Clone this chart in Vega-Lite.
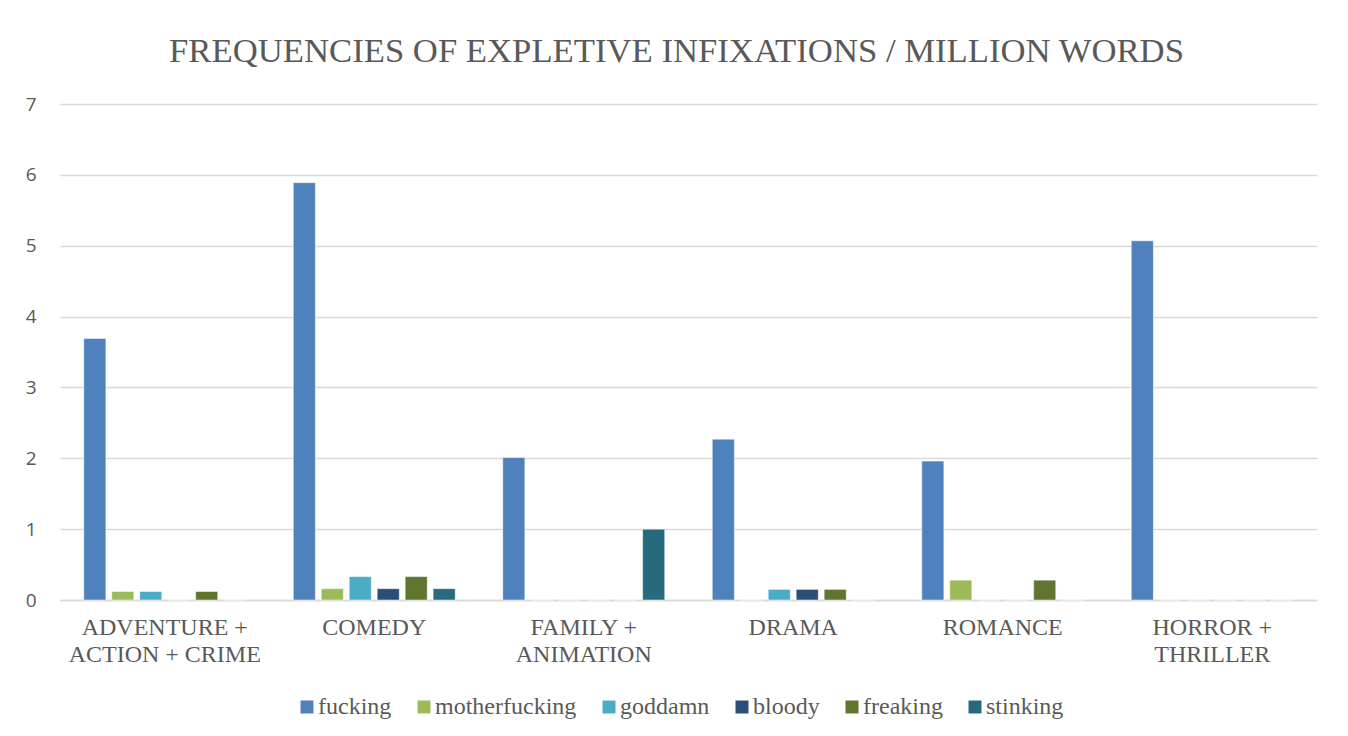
{
  "$schema": "https://vega.github.io/schema/vega-lite/v6.json",
  "width": 1257,
  "height": 496,
  "autosize": "none",
  "padding": {"left": 60, "top": 104, "right": 31, "bottom": 136},
  "background": "white",
  "title": {
    "text": "FREQUENCIES OF EXPLETIVE INFIXATIONS / MILLION WORDS",
    "font": "Liberation Serif",
    "fontSize": 34.7,
    "fontWeight": "normal",
    "color": "#595959",
    "anchor": "middle",
    "baseline": "alphabetic",
    "offset": -2,
    "dx": -12
  },
  "data": {
    "values": [
      {"genre": "ADVENTURE +|ACTION + CRIME", "word": "fucking", "freq": 3.69},
      {"genre": "ADVENTURE +|ACTION + CRIME", "word": "motherfucking", "freq": 0.12},
      {"genre": "ADVENTURE +|ACTION + CRIME", "word": "goddamn", "freq": 0.12},
      {"genre": "ADVENTURE +|ACTION + CRIME", "word": "bloody", "freq": 0},
      {"genre": "ADVENTURE +|ACTION + CRIME", "word": "freaking", "freq": 0.12},
      {"genre": "ADVENTURE +|ACTION + CRIME", "word": "stinking", "freq": 0},
      {"genre": "COMEDY", "word": "fucking", "freq": 5.89},
      {"genre": "COMEDY", "word": "motherfucking", "freq": 0.16},
      {"genre": "COMEDY", "word": "goddamn", "freq": 0.33},
      {"genre": "COMEDY", "word": "bloody", "freq": 0.16},
      {"genre": "COMEDY", "word": "freaking", "freq": 0.33},
      {"genre": "COMEDY", "word": "stinking", "freq": 0.16},
      {"genre": "FAMILY +|ANIMATION", "word": "fucking", "freq": 2.01},
      {"genre": "FAMILY +|ANIMATION", "word": "motherfucking", "freq": 0},
      {"genre": "FAMILY +|ANIMATION", "word": "goddamn", "freq": 0},
      {"genre": "FAMILY +|ANIMATION", "word": "bloody", "freq": 0},
      {"genre": "FAMILY +|ANIMATION", "word": "freaking", "freq": 0},
      {"genre": "FAMILY +|ANIMATION", "word": "stinking", "freq": 1.0},
      {"genre": "DRAMA", "word": "fucking", "freq": 2.27},
      {"genre": "DRAMA", "word": "motherfucking", "freq": 0},
      {"genre": "DRAMA", "word": "goddamn", "freq": 0.15},
      {"genre": "DRAMA", "word": "bloody", "freq": 0.15},
      {"genre": "DRAMA", "word": "freaking", "freq": 0.15},
      {"genre": "DRAMA", "word": "stinking", "freq": 0},
      {"genre": "ROMANCE", "word": "fucking", "freq": 1.96},
      {"genre": "ROMANCE", "word": "motherfucking", "freq": 0.28},
      {"genre": "ROMANCE", "word": "goddamn", "freq": 0},
      {"genre": "ROMANCE", "word": "bloody", "freq": 0},
      {"genre": "ROMANCE", "word": "freaking", "freq": 0.28},
      {"genre": "ROMANCE", "word": "stinking", "freq": 0},
      {"genre": "HORROR +|THRILLER", "word": "fucking", "freq": 5.07},
      {"genre": "HORROR +|THRILLER", "word": "motherfucking", "freq": 0},
      {"genre": "HORROR +|THRILLER", "word": "goddamn", "freq": 0},
      {"genre": "HORROR +|THRILLER", "word": "bloody", "freq": 0},
      {"genre": "HORROR +|THRILLER", "word": "freaking", "freq": 0},
      {"genre": "HORROR +|THRILLER", "word": "stinking", "freq": 0}
    ]
  },
  "mark": {"type": "bar", "stroke": "white", "strokeWidth": 0.5},
  "encoding": {
    "x": {
      "field": "genre",
      "type": "nominal",
      "sort": null,
      "scale": {"paddingInner": 0, "paddingOuter": 0},
      "axis": {
        "title": null,
        "labelAngle": 0,
        "labelExpr": "split(datum.label, '|')",
        "labelFont": "Liberation Serif",
        "labelFontSize": 24,
        "labelColor": "#595959",
        "labelLineHeight": 27,
        "labelPadding": 15,
        "labelLimit": 400,
        "ticks": false,
        "domain": true,
        "domainColor": "#D9D9D9",
        "domainWidth": 1.5,
        "grid": false
      }
    },
    "xOffset": {
      "field": "word",
      "type": "nominal",
      "sort": ["fucking", "motherfucking", "goddamn", "bloody", "freaking", "stinking"],
      "scale": {"paddingInner": 0.21, "paddingOuter": 0.85}
    },
    "y": {
      "field": "freq",
      "type": "quantitative",
      "scale": {"domain": [0, 7], "nice": false},
      "axis": {
        "title": null,
        "values": [0, 1, 2, 3, 4, 5, 6, 7],
        "labelOverlap": false,
        "domain": false,
        "ticks": false,
        "grid": true,
        "gridColor": "#D9D9D9",
        "gridWidth": 1.3,
        "labelFont": "Open Sans",
        "labelFontSize": 19,
        "labelColor": "#595959",
        "labelPadding": 24
      }
    },
    "color": {
      "field": "word",
      "type": "nominal",
      "scale": {
        "domain": ["fucking", "motherfucking", "goddamn", "bloody", "freaking", "stinking"],
        "range": ["#4F81BD", "#9BBB59", "#4BACC6", "#2C4D75", "#5F7530", "#276A7C"]
      },
      "legend": {
        "title": null,
        "orient": "none",
        "legendX": 235,
        "legendY": 591,
        "direction": "horizontal",
        "symbolType": "square",
        "symbolSize": 169,
        "symbolStrokeWidth": 0,
        "labelFont": "Liberation Serif",
        "labelFontSize": 24,
        "labelColor": "#595959",
        "labelOffset": -1,
        "columnPadding": 20,
        "labelLimit": 300
      }
    }
  },
  "config": {
    "font": "Liberation Serif",
    "view": {"stroke": null}
  }
}
